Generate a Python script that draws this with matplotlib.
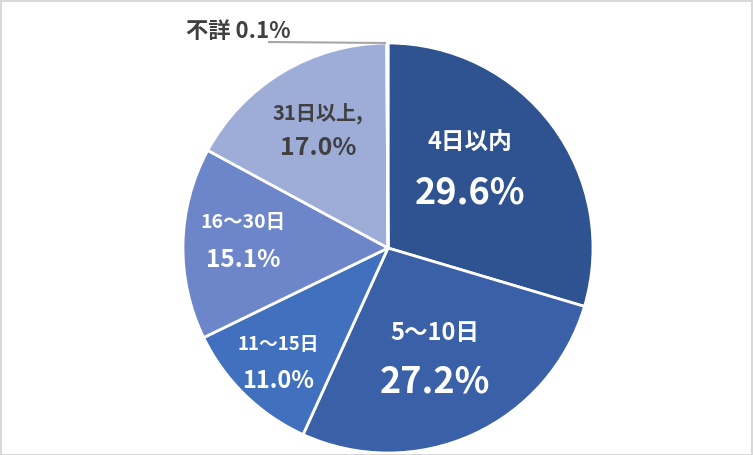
import matplotlib
matplotlib.use("Agg")
import matplotlib.pyplot as plt
from matplotlib.patches import Rectangle

plt.rcParams["font.family"] = ["Noto Sans CJK JP", "DejaVu Sans"]

# data (clockwise from 12 o'clock)
categories = ["4日以内", "5～10日", "11～15日", "16～30日", "31日以上", "不詳"]
shares = [29.6, 27.2, 11.0, 15.1, 17.0, 0.1]
colors = ["#2F5290", "#3A60A8", "#4170BF", "#6C86C9", "#9EACD8", "#BFBFBF"]

W, H = 753, 455
fig = plt.figure(figsize=(W / 100, H / 100), dpi=100)
ax = fig.add_axes([0, 0, 1, 1])
ax.set_xlim(0, W)
ax.set_ylim(0, H)
ax.set_aspect("equal")
ax.axis("off")

cx, cy, r = 388, H - 248, 205
ax.pie(shares, colors=colors, startangle=90, counterclock=False,
       center=(cx, cy), radius=r,
       wedgeprops=dict(edgecolor="white", linewidth=2))
ax.set_xlim(0, W)
ax.set_ylim(0, H)


def label(x, y, s, size, color="white"):
    ax.text(x, H - y, s, ha="center", va="center", fontsize=size,
            fontweight="bold", color=color)


dark = "#404040"
label(470, 143, categories[0], 17)
label(470, 193, f"{shares[0]:.1f}%", 26)
label(435, 333, categories[1], 17)
label(435, 382, f"{shares[1]:.1f}%", 26)
label(278, 345, categories[2], 13.5)
label(278, 381, f"{shares[2]:.1f}%", 17)
label(243, 222, categories[3], 14)
label(243, 260, f"{shares[3]:.1f}%", 17.5)
label(318, 113, categories[4] + ",", 14.5, dark)
label(318, 148, f"{shares[4]:.1f}%", 18, dark)
ax.text(186, H - 32, f"{categories[5]} {shares[5]:.1f}%", ha="left", va="center",
        fontsize=16, fontweight="bold", color=dark)

# leader line for the tiny slice
ax.plot([268, 386], [H - 42, H - 43], color="#A6A6A6", lw=1.5,
        solid_capstyle="butt")

# outer frame
fig.patches.append(Rectangle((0.5 / W, 0.5 / H), 1 - 1.5 / W, 1 - 1.5 / H,
                             transform=fig.transFigure, fill=False,
                             edgecolor="#D9D9D9", linewidth=1.5))

fig.savefig("out.png", dpi=100, facecolor="white")
